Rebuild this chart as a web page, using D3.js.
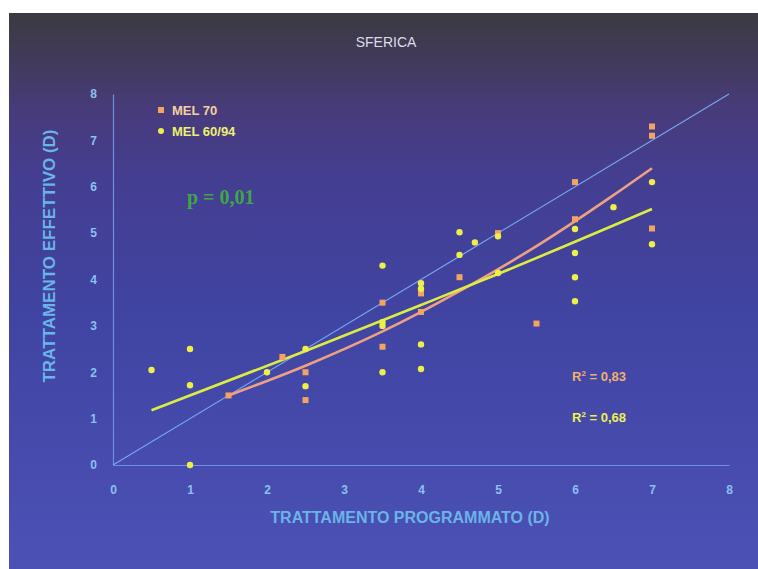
<!DOCTYPE html>
<meta charset="utf-8">
<style>
body { margin: 0; padding: 0; background: #fff; }
svg { font-family: Arial, "Liberation Sans", sans-serif; }
.tick text { fill: #8cc0f0; font-weight: bold; font-size: 12px; }
.title { fill: #dcdcec; font-size: 14px; text-anchor: middle; }
.axis-title { fill: #6ab4e8; font-weight: bold; text-anchor: middle; }
</style>
<body>
<div id="chart"></div>
<script src="https://cdn.jsdelivr.net/npm/d3@7"></script>
<script>

// MEL 70 (orange squares)
var mel70X = [1.5, 2.2, 2.5, 2.5, 3.5, 3.5, 4, 4, 4.5, 5, 5.5, 6, 6, 7, 7, 7];
var mel70Y = [1.5, 2.33, 2.0, 1.4, 3.5, 2.55, 3.7, 3.3, 4.05, 5.0, 3.05, 6.1, 5.3, 7.3, 7.1, 5.1];

// MEL 60/94 (yellow dots)
var mel6094X = [0.5, 1, 1, 1, 2, 2.5, 2.5, 3.5, 3.5, 3.5, 3.5, 4, 4, 4, 4, 4.5, 4.5, 4.7, 5, 5, 6, 6, 6, 6, 6.5, 7, 7];
var mel6094Y = [2.05, 2.5, 1.72, 0, 2.0, 2.5, 1.7, 4.3, 3.08, 3.0, 2.0, 3.92, 3.8, 2.6, 2.07, 5.02, 4.53, 4.8, 4.93, 4.14, 5.09, 4.57, 4.05, 3.53, 5.56, 6.1, 4.76];

// trend lines
var trend70X = [1.5, 2.5, 3.5, 4.5, 5.5, 6.5, 7];
var trend70Y = [1.5, 2.14, 2.88, 3.75, 4.72, 5.82, 6.4];
var trend6094X = [0.5, 2.5, 4, 5, 7];
var trend6094Y = [1.18, 2.46, 3.45, 4.12, 5.52];

var ticks = [0, 1, 2, 3, 4, 5, 6, 7, 8];
var r2Labels = ["0,83", "0,68"];

var W = 758, H = 569;

var svg = d3.select("#chart").append("svg")
    .attr("width", W)
    .attr("height", H);

var defs = svg.append("defs");
var grad = defs.append("linearGradient")
    .attr("id", "bg")
    .attr("x1", 0).attr("y1", 0).attr("x2", 0).attr("y2", 1);
[[0, "#3b3a42"], [0.07, "#413a55"], [0.17, "#483b7a"], [0.3, "#443e92"], [0.55, "#4044a2"], [1, "#4c51b6"]]
  .forEach(function (s) {
    grad.append("stop").attr("offset", s[0]).attr("stop-color", s[1]);
  });

svg.append("rect")
    .attr("x", 9).attr("y", 13)
    .attr("width", W - 9).attr("height", H - 13)
    .attr("fill", "url(#bg)");

var x = d3.scaleLinear().domain([0, 8]).range([113, 729]);
var y = d3.scaleLinear().domain([0, 8]).range([465, 94]);

// axes
svg.append("g")
    .attr("transform", "translate(0," + y(0) + ")")
    .call(d3.axisBottom(x).tickValues(ticks).tickSize(0).tickPadding(20).tickFormat(d3.format("d")))
    .call(function (g) { g.select(".domain").attr("stroke", "#6f8fe0").attr("stroke-width", 1.2); });

svg.append("g")
    .attr("transform", "translate(" + x(0) + ",0)")
    .call(d3.axisLeft(y).tickValues(ticks).tickSize(0).tickPadding(16).tickFormat(d3.format("d")))
    .call(function (g) { g.select(".domain").attr("stroke", "#6f8fe0").attr("stroke-width", 1.2); });

// identity line
svg.append("line")
    .attr("x1", x(0)).attr("y1", y(0))
    .attr("x2", x(8)).attr("y2", y(8))
    .attr("stroke", "#76a6ee")
    .attr("stroke-width", 1.2);

var line = d3.line().curve(d3.curveMonotoneX);

svg.append("path")
    .attr("d", line(trend70X.map(function (d, i) { return [x(d), y(trend70Y[i])]; })))
    .attr("fill", "none")
    .attr("stroke", "#eca282")
    .attr("stroke-width", 2.6);

svg.append("path")
    .attr("d", line(trend6094X.map(function (d, i) { return [x(d), y(trend6094Y[i])]; })))
    .attr("fill", "none")
    .attr("stroke", "#dcec42")
    .attr("stroke-width", 2.6);

// points
var sq = 6;
svg.append("g").selectAll("rect")
    .data(mel70X.map(function (d, i) { return [d, mel70Y[i]]; }))
    .enter().append("rect")
    .attr("x", function (d) { return x(d[0]) - sq / 2; })
    .attr("y", function (d) { return y(d[1]) - sq / 2; })
    .attr("width", sq).attr("height", sq)
    .attr("fill", "#f2a460");

svg.append("g").selectAll("circle")
    .data(mel6094X.map(function (d, i) { return [d, mel6094Y[i]]; }))
    .enter().append("circle")
    .attr("cx", function (d) { return x(d[0]); })
    .attr("cy", function (d) { return y(d[1]); })
    .attr("r", 3.2)
    .attr("fill", "#eef048");

// title
svg.append("text").attr("class", "title")
    .attr("x", 386).attr("y", 47)
    .text("SFERICA");

// legend
svg.append("rect").attr("x", 158).attr("y", 107).attr("width", 6).attr("height", 6).attr("fill", "#f2a460");
svg.append("text").attr("x", 172).attr("y", 115)
    .attr("fill", "#f3d0a0").attr("font-weight", "bold").attr("font-size", 13)
    .text("MEL 70");
svg.append("circle").attr("cx", 161).attr("cy", 131).attr("r", 3).attr("fill", "#eef048");
svg.append("text").attr("x", 172).attr("y", 136)
    .attr("fill", "#eef070").attr("font-weight", "bold").attr("font-size", 13)
    .text("MEL 60/94");

// p value
svg.append("text").attr("x", 187).attr("y", 204)
    .attr("fill", "#3fa648").attr("font-weight", "bold").attr("font-size", 20)
    .attr("font-family", "'Liberation Serif', 'DejaVu Serif', serif")
    .text("p = 0,01");

// R2 labels
var r2Colors = ["#f0b070", "#eef050"];
var r2Y = [381, 422];
r2Labels.forEach(function (lab, i) {
  var t = svg.append("text").attr("x", 572).attr("y", r2Y[i])
      .attr("fill", r2Colors[i]).attr("font-weight", "bold").attr("font-size", 13);
  t.append("tspan").text("R");
  t.append("tspan").attr("dy", -5).attr("font-size", 8).text("2");
  t.append("tspan").attr("dy", 5).text(" = " + lab);
});

// axis titles
svg.append("text").attr("class", "axis-title")
    .attr("x", 410).attr("y", 523)
    .attr("font-size", 16)
    .text("TRATTAMENTO PROGRAMMATO (D)");

svg.append("text").attr("class", "axis-title")
    .attr("transform", "translate(55,256) rotate(-90)")
    .attr("font-size", 17)
    .text("TRATTAMENTO EFFETTIVO (D)");

</script>
</body>
